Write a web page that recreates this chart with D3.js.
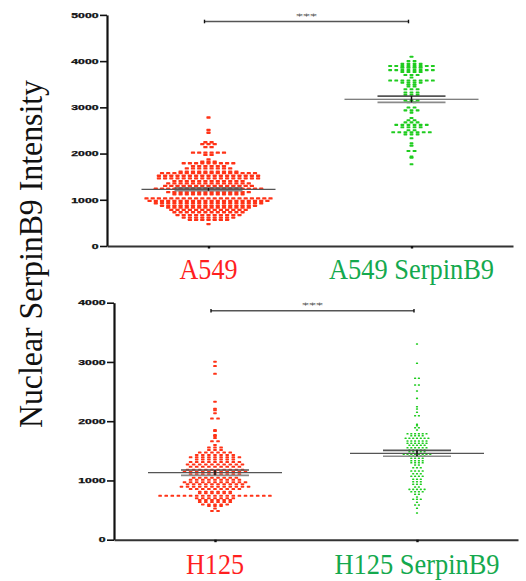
<!DOCTYPE html>
<html>
<head>
<meta charset="utf-8">
<script src="https://cdn.jsdelivr.net/npm/d3@7"></script>
<style>
  html, body { margin: 0; padding: 0; background: #fff; }
  svg { display: block; }
</style>
</head>
<body>
<svg id="chart" width="526" height="581"></svg>
<script>
// Dot rows: [intensity, number of cells in that row]
const a549Rows = [
  [2780,1],[2510,1],[2450,1],[2245,2],[2205,3],[2140,2],[2020,6],[1970,2],
  [1875,1],[1825,3],[1790,9],[1730,6],[1680,8],[1610,10],[1575,16],[1520,17],
  [1465,17],[1405,12],[1355,14],[1300,15],[1240,18],[1165,14],[1120,12],
  [1030,21],[975,20],[925,18],[870,16],[830,14],[780,13],[730,12],[670,11],
  [615,9],[565,7],[475,1]
];
const a549SerpinRows = [
  [4095,1],[4000,2],[3940,4],[3895,8],[3855,4],[3805,8],[3765,4],[3700,3],
  [3645,1],[3580,8],[3535,4],[3490,2],[3450,2],[3390,3],[3320,3],[3270,3],
  [3145,3],[3110,2],[2995,2],[2935,3],[2885,1],[2770,1],[2720,2],[2675,3],
  [2620,6],[2570,4],[2505,2],[2460,7],[2415,3],[2330,1],[2220,1],[2170,1],
  [2055,2],[1935,1],[1910,1],[1770,1]
];
const h125Rows = [
  [3005,1],[2930,1],[2800,1],[2330,1],[2210,1],[2185,1],[2135,1],[2045,2],
  [1850,1],[1835,1],[1765,1],[1750,1],[1715,1],[1660,2],[1600,1],[1555,3],
  [1515,3],[1470,6],[1430,7],[1390,9],[1355,7],[1310,9],[1270,10],[1230,9],
  [1180,10],[1145,11],[1105,9],[1045,8],[1010,9],[970,11],[935,10],[895,12],
  [855,9],[810,6],[785,6],[740,19],[700,7],[670,6],[635,6],[595,5],[570,3],
  [525,1],[485,2]
];
const h125SerpinRows = [
  [3303,1],[2977,1],[2724,2],[2611,2],[2510,1],[2386,1],[2245,1],[2206,1],
  [2150,1],[2093,2],[1947,1],[1924,1],[1890,2],[1851,1],[1789,6],[1755,4],
  [1711,7],[1666,6],[1627,6],[1593,5],[1553,6],[1514,5],[1485,5],[1441,8],
  [1413,5],[1374,4],[1333,4],[1300,4],[1261,2],[1215,3],[1159,4],[1114,3],
  [1070,4],[1019,3],[979,3],[935,3],[889,2],[850,5],[810,4],[766,2],[721,1],
  [682,3],[631,1],[586,2],[530,1],[451,1]
];

const topCategories = ["A549", "A549 SerpinB9"];
const bottomCategories = ["H125", "H125 SerpinB9"];
const topMeans = [1225, 3175];
const topSEM = [30, 68];
const bottomMeans = [1131, 1458];
const bottomSEM = [45, 50];
const topTicks = [0, 1000, 2000, 3000, 4000, 5000];
const bottomTicks = [0, 1000, 2000, 3000, 4000];
const significance = "***";
const yTitle = "Nuclear SerpinB9 Intensity";

const RED = "#ff1f1f", GREEN = "#14a94e";
const DOT_RED = "#ff3317", DOT_GREEN = "#1fcc1f";

const svg = d3.select("#chart");

function panel(cfg) {
  const g = svg.append("g");
  const x = d3.scalePoint().domain(cfg.categories).range([cfg.left, cfg.right]).padding(0.5);
  const y = d3.scaleLinear().domain([0, cfg.max]).range([cfg.bottom, cfg.top]);

  // y axis
  const yAxis = d3.axisLeft(y).tickValues(cfg.ticks).tickFormat(d3.format("d"))
    .tickSize(7).tickSizeOuter(0).tickPadding(1.5);
  const ya = g.append("g").attr("transform", `translate(${cfg.left},0)`).call(yAxis);
  ya.select(".domain").attr("stroke", "#111").attr("stroke-width", 2.2);
  ya.selectAll(".tick line").attr("stroke", "#111").attr("stroke-width", 1.6);
  ya.selectAll(".tick text")
    .attr("font-family", "Liberation Sans, Arial, sans-serif")
    .attr("font-weight", "bold").attr("font-size", 6.3).attr("fill", "#111")
    .attr("stroke", "#111").attr("stroke-width", 0.25)
    .attr("dy", "0.36em")
    .attr("textLength", d => String(d).length * 6.8)
    .attr("lengthAdjust", "spacingAndGlyphs");

  // x axis
  const xAxis = d3.axisBottom(x).tickSize(2.5).tickSizeOuter(0).tickFormat("");
  const xa = g.append("g").attr("transform", `translate(0,${cfg.bottom})`).call(xAxis);
  xa.select(".domain").attr("stroke", "#333").attr("stroke-width", 2);
  xa.selectAll(".tick line").attr("stroke", "#111").attr("stroke-width", 2.4);

  // category labels
  g.selectAll("text.cat").data(cfg.categories).join("text")
    .attr("class", "cat")
    .attr("x", d => x(d)).attr("y", cfg.labelY)
    .attr("text-anchor", "middle")
    .attr("font-family", "Liberation Serif, Times New Roman, serif")
    .attr("font-size", 28.5)
    .attr("fill", (d, i) => i === 0 ? RED : GREEN)
    .attr("textLength", (d, i) => cfg.labelWidths[i])
    .attr("lengthAdjust", "spacingAndGlyphs")
    .text(d => d);

  // dots
  cfg.rows.forEach((rows, gi) => {
    const cx = x(cfg.categories[gi]);
    const st = cfg.dot[gi];
    const pts = [];
    rows.forEach(([v, n]) => {
      for (let k = 0; k < n; k++) pts.push({ v, off: (k - (n - 1) / 2) * st.step });
    });
    g.append("g").selectAll("rect").data(pts).join("rect")
      .attr("x", d => cx + d.off - st.w / 2)
      .attr("y", d => y(d.v) - st.h / 2)
      .attr("width", st.w).attr("height", st.h)
      .attr("rx", 0.6)
      .attr("fill", gi === 0 ? DOT_RED : DOT_GREEN);
  });

  // mean and SEM
  cfg.categories.forEach((c, i) => {
    const cx = x(c), m = cfg.means[i], s = cfg.sem[i];
    g.append("line")
      .attr("x1", cx - 67).attr("x2", cx + 67)
      .attr("y1", y(m)).attr("y2", y(m))
      .attr("stroke", "#555").attr("stroke-width", 1.2);
    [m + s, m - s].forEach((v, j) => {
      g.append("line")
        .attr("x1", cx - 34).attr("x2", cx + 34)
        .attr("y1", y(v)).attr("y2", y(v))
        .attr("stroke", j === 0 ? "#555" : "#8a8a8a").attr("stroke-width", 1.6);
    });
    g.append("line")
      .attr("x1", cx).attr("x2", cx)
      .attr("y1", y(m + s)).attr("y2", y(m - s))
      .attr("stroke", "#111").attr("stroke-width", 1.5);
  });

  // significance bracket
  const sx1 = x(cfg.categories[0]) - 4, sx2 = x(cfg.categories[1]) - 3;
  const sy = cfg.sigY;
  g.append("line").attr("x1", sx1).attr("x2", sx2).attr("y1", sy).attr("y2", sy)
    .attr("stroke", "#555").attr("stroke-width", 1.4);
  [sx1, sx2].forEach(px => {
    g.append("line").attr("x1", px).attr("x2", px).attr("y1", sy - 1.8).attr("y2", sy + 1.8)
      .attr("stroke", "#111").attr("stroke-width", 1.4);
  });
  g.append("text")
    .attr("x", (sx1 + sx2) / 2).attr("y", sy - 3)
    .attr("text-anchor", "middle")
    .attr("font-family", "DejaVu Sans, sans-serif").attr("font-size", 7.5)
    .attr("fill", "#555")
    .attr("textLength", 21).attr("lengthAdjust", "spacingAndGlyphs")
    .text(significance);
}

panel({
  categories: topCategories, left: 107, right: 513, top: 14.9, bottom: 246, max: 5000,
  ticks: topTicks, rows: [a549Rows, a549SerpinRows], means: topMeans, sem: topSEM,
  labelY: 279, labelWidths: [58, 165], sigY: 21.5,
  dot: [{ w: 4.2, h: 2.3, step: 6.2 }, { w: 3.8, h: 2.1, step: 6.1 }]
});

panel({
  categories: bottomCategories, left: 114, right: 518, top: 302.7, bottom: 539.7, max: 4000,
  ticks: bottomTicks, rows: [h125Rows, h125SerpinRows], means: bottomMeans, sem: bottomSEM,
  labelY: 574, labelWidths: [58, 165], sigY: 310.7,
  dot: [{ w: 3.6, h: 2, step: 6.1 }, { w: 2.2, h: 1.6, step: 3.8 }]
});

// shared y axis title
svg.append("text")
  .attr("transform", "translate(42,254) rotate(-90)")
  .attr("text-anchor", "middle")
  .attr("font-family", "Liberation Serif, Times New Roman, serif")
  .attr("font-size", 34).attr("fill", "#111")
  .attr("textLength", 348).attr("lengthAdjust", "spacingAndGlyphs")
  .text(yTitle);
</script>
</body>
</html>
